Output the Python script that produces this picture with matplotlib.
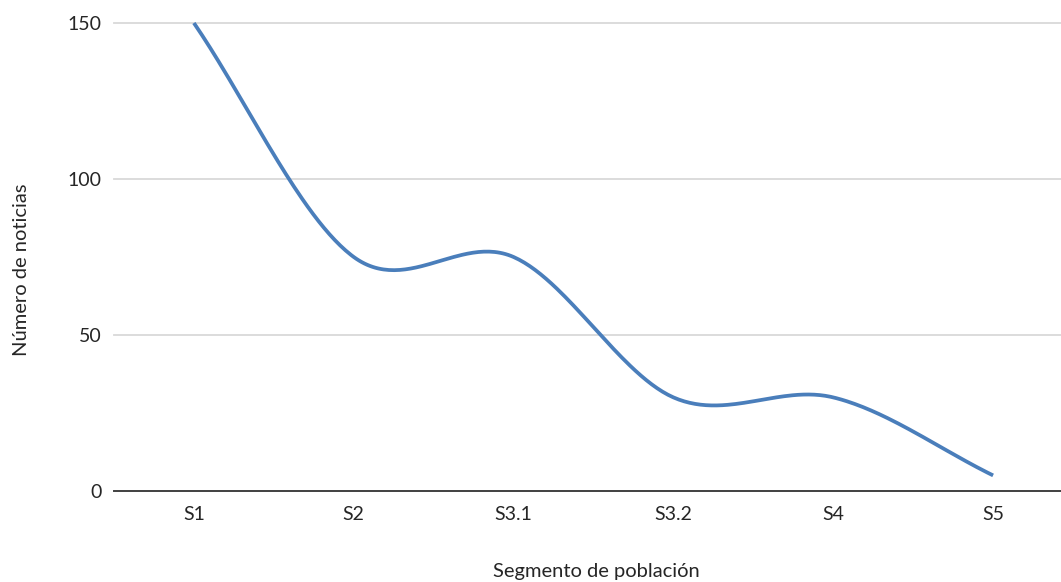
import numpy as np
import matplotlib
matplotlib.use("Agg")
import matplotlib.pyplot as plt

categories = ["S1", "S2", "S3.1", "S3.2", "S4", "S5"]
values = [150, 75, 75, 30, 30, 5]
y_ticks = [0, 50, 100, 150]

plt.rcParams['font.family'] = ['Lato', 'DejaVu Sans']

def smooth(xs, ys, n=60):
    xs = np.asarray(xs, float); ys = np.asarray(ys, float)
    k = len(xs)
    m = np.zeros(k)
    for i in range(k):
        if i == 0:
            m[i] = ys[1] - ys[0]
        elif i == k - 1:
            m[i] = ys[-1] - ys[-2]
        else:
            m[i] = (ys[i + 1] - ys[i - 1]) / 2
    X, Y = [], []
    for i in range(k - 1):
        t = np.linspace(0, 1, n)
        h00 = 2*t**3 - 3*t**2 + 1
        h10 = t**3 - 2*t**2 + t
        h01 = -2*t**3 + 3*t**2
        h11 = t**3 - t**2
        X.extend(xs[i] + t * (xs[i+1] - xs[i]))
        Y.extend(h00*ys[i] + h10*m[i] + h01*ys[i+1] + h11*m[i+1])
    return np.array(X), np.array(Y)

W, H = 1061, 582
fig = plt.figure(figsize=(W/100, H/100), dpi=100)
left, right = 114, 1073
top, bottom = 23, 491
ax = fig.add_axes([left/W, 1 - bottom/H, (right-left)/W, (bottom-top)/H])

x = np.arange(len(categories))
sx, sy = smooth(x, values)
ax.plot(sx, sy, color="#4a7ebb", lw=2.7, solid_capstyle='butt', zorder=3, clip_on=False)

ax.set_xlim(-0.5, len(categories) - 0.5)
ax.set_ylim(0, 150)
ax.set_yticks(y_ticks)
ax.set_xticks(x)
ax.set_xticklabels(categories)
for yv in y_ticks[1:]:
    ax.axhline(yv, color="#d9d9d9", lw=1.3, zorder=1, clip_on=False)
ax.axhline(0, color="#404040", lw=1.4, zorder=2, clip_on=False)
for s in ax.spines.values():
    s.set_visible(False)
ax.tick_params(length=0, labelsize=14, colors="#404040", pad=9)
ax.tick_params(axis='x', pad=11)
for lbl in ax.get_xticklabels() + ax.get_yticklabels():
    lbl.set_color("#262626")

fig.text(22/W, 1 - 270/H, "Número de noticias", rotation=90, ha='center', va='center',
         fontsize=14.5, color="#262626")
fig.text(596/W, 1 - 571/H, "Segmento de población", ha='center', va='center',
         fontsize=14.5, color="#262626")

fig.savefig("out.png", dpi=100)
